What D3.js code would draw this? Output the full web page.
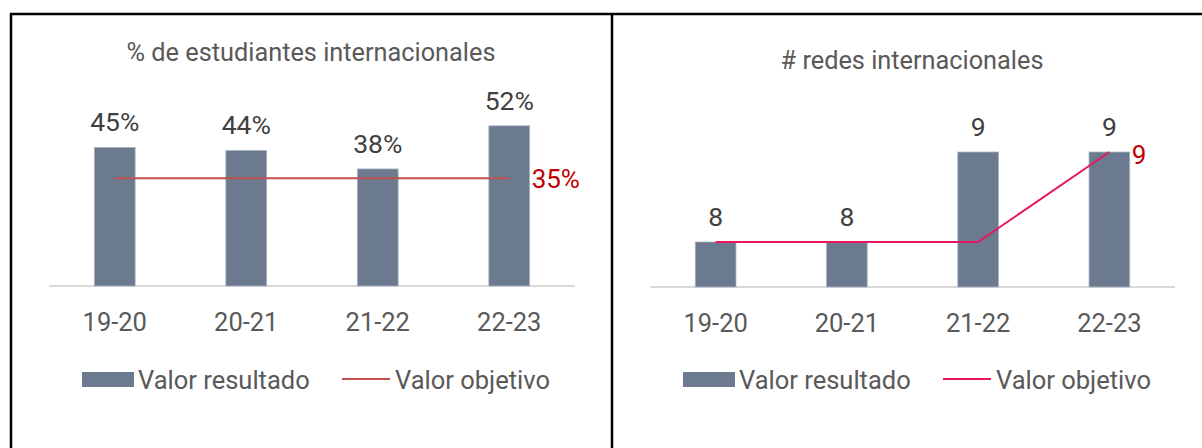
<!DOCTYPE html>
<html>
<head>
<meta charset="utf-8">
<script src="https://cdn.jsdelivr.net/npm/d3@7"></script>
<style>
  html, body { margin: 0; padding: 0; background: #fff; }
  svg { display: block; font-family: Roboto, "Noto Sans", sans-serif; }
</style>
</head>
<body>
<svg id="chart" width="1202" height="448"></svg>
<script>
// ---- data ----
const categories = ["19-20", "20-21", "21-22", "22-23"];
const titleLeft = "% de estudiantes internacionales";
const resultLeft = [0.45, 0.44, 0.38, 0.52];
const targetLeft = [0.35, 0.35, 0.35, 0.35];
const titleRight = "# redes internacionales";
const resultRight = [8, 8, 9, 9];
const targetRight = [8, 8, 8, 9];
const seriesNames = ["Valor resultado", "Valor objetivo"];

const svg = d3.select("#chart");

// frame lines
svg.append("line").attr("x1", 10).attr("x2", 1202).attr("y1", 14).attr("y2", 14)
  .attr("stroke", "#000").attr("stroke-width", 2.5);
svg.append("line").attr("x1", 11).attr("x2", 11).attr("y1", 13).attr("y2", 448)
  .attr("stroke", "#000").attr("stroke-width", 2.5);
svg.append("line").attr("x1", 612).attr("x2", 612).attr("y1", 13).attr("y2", 448)
  .attr("stroke", "#000").attr("stroke-width", 2.5);

function drawPanel(cfg) {
  const g = svg.append("g");
  const x = d3.scaleBand().domain(categories)
    .range(cfg.xRange).paddingInner(0.69).paddingOuter(0.345);
  const y = d3.scaleLinear().domain(cfg.yDomain).range(cfg.yRange);

  // title
  g.append("text").attr("x", cfg.titleX).attr("y", cfg.titleY)
    .attr("text-anchor", "middle").attr("font-size", 25.3).attr("fill", "#595959")
    .text(cfg.title);

  // x axis
  const axis = g.append("g").attr("transform", `translate(0,${cfg.yRange[0]})`)
    .call(d3.axisBottom(x).tickSize(0).tickPadding(27));
  axis.select(".domain").attr("stroke", "#d9d9d9").attr("stroke-width", 2)
    .attr("d", `M${cfg.xRange[0]},0H${cfg.xRange[1]}`);
  axis.selectAll(".tick text").attr("font-size", 25.5).attr("fill", "#595959")
    .attr("font-family", "Roboto, sans-serif");

  // bars
  g.selectAll("rect.bar").data(cfg.result).join("rect").attr("class", "bar")
    .attr("x", (d, i) => x(categories[i]))
    .attr("width", x.bandwidth())
    .attr("y", d => y(d))
    .attr("height", d => y(cfg.yDomain[0]) - y(d))
    .attr("fill", "#6b7a8f").attr("stroke", "#aab3bf").attr("stroke-width", 0.8);

  // value labels
  g.selectAll("text.val").data(cfg.result).join("text").attr("class", "val")
    .attr("x", (d, i) => x(categories[i]) + x.bandwidth() / 2)
    .attr("y", d => y(d) - 16)
    .attr("text-anchor", "middle").attr("font-size", 26.5).attr("fill", "#404040")
    .text(cfg.fmt);

  // target line
  const line = d3.line()
    .x((d, i) => x(categories[i]) + x.bandwidth() / 2)
    .y(d => y(d));
  g.append("path").datum(cfg.target).attr("d", line)
    .attr("fill", "none").attr("stroke", cfg.lineColor).attr("stroke-width", 2);

  // target end label
  const last = cfg.target.length - 1;
  g.append("text")
    .attr("x", x(categories[last]) + x.bandwidth() + 2)
    .attr("y", y(cfg.target[last]) + cfg.endDy)
    .attr("font-size", 26).attr("fill", "#c00000")
    .text(cfg.fmt(cfg.target[last]));

  // legend
  const lg = g.append("g").attr("transform", `translate(${cfg.legendX},0)`);
  lg.append("rect").attr("x", 0).attr("y", 372).attr("width", 52).attr("height", 15)
    .attr("fill", "#6b7a8f");
  lg.append("text").attr("x", 56).attr("y", 389).attr("font-size", 25.5).attr("fill", "#595959")
    .text(seriesNames[0]);
  lg.append("line").attr("x1", 260).attr("x2", 308).attr("y1", 379).attr("y2", 379)
    .attr("stroke", cfg.lineColor).attr("stroke-width", 2);
  lg.append("text").attr("x", 313).attr("y", 389).attr("font-size", 25.5).attr("fill", "#595959")
    .text(seriesNames[1]);
}

drawPanel({
  title: titleLeft, titleX: 311, titleY: 61,
  xRange: [49, 575], yDomain: [0, 0.6], yRange: [286, 286 - 0.6 * 308],
  result: resultLeft, target: targetLeft,
  fmt: d => Math.round(d * 100) + "%",
  lineColor: "#c0504d", endDy: 10, legendX: 82
});

drawPanel({
  title: titleRight, titleX: 912, titleY: 69,
  xRange: [650, 1175], yDomain: [7.5, 9], yRange: [287, 152],
  result: resultRight, target: targetRight,
  fmt: d => String(d),
  lineColor: "#e6175c", endDy: 12, legendX: 683
});
</script>
</body>
</html>
